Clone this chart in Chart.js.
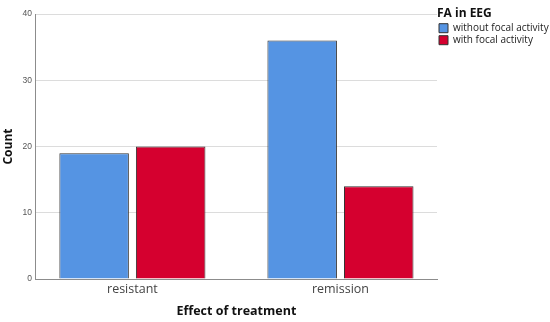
<!DOCTYPE html>
<html>
<head>
<meta charset="utf-8">
<script src="https://cdn.jsdelivr.net/npm/chart.js@4"></script>
<style>
  html, body { margin: 0; padding: 0; background: #fff; }
  #wrap { width: 550px; height: 322px; }
</style>
</head>
<body>
<div id="wrap"><canvas id="faChart"></canvas></div>
<script>
const categories = ["resistant", "remission"];
const seriesNames = ["without focal activity", "with focal activity"];
const withoutFocal = [19, 36];
const withFocal = [20, 14];
const yTicks = [0, 10, 20, 30, 40];

// bars sit on a linear x so the groups can be placed like the SPSS output
function toPoints(values) {
  return values.map((v, i) => ({ x: i, y: v }));
}

const ctx = document.getElementById("faChart").getContext("2d");
const chart = new Chart(ctx, {
  type: "bar",
  data: {
    datasets: [
      {
        label: seriesNames[0],
        data: toPoints(withoutFocal),
        backgroundColor: "#5594e3",
        borderColor: "#333333",
        borderWidth: 1
      },
      {
        label: seriesNames[1],
        data: toPoints(withFocal),
        backgroundColor: "#d5002f",
        borderColor: "#333333",
        borderWidth: 1
      }
    ]
  },
  options: {
    responsive: true,
    maintainAspectRatio: false,
    animation: false,
    layout: { padding: 0 },
    datasets: {
      bar: { categoryPercentage: 0.736, barPercentage: 0.908 }
    },
    scales: {
      x: {
        type: "linear",
        offset: false,
        min: -0.464,
        max: 1.464,
        afterBuildTicks: (scale) => {
          scale.ticks = categories.map((_, i) => ({ value: i }));
        },
        ticks: {
          callback: (value) => categories[value] ?? "",
          padding: 3,
          maxRotation: 0,
          color: "#444",
          font: { family: "Open Sans", size: 12.5 }
        },
        grid: { display: false, drawTicks: false },
        border: { display: true, color: "#8c8c8c" },
        title: {
          display: true,
          text: "Effect of treatment",
          color: "#111",
          font: { family: "Open Sans", size: 12.5, weight: "bold" },
          padding: { top: 3.5, bottom: 3.5 }
        }
      },
      y: {
        min: yTicks[0],
        max: yTicks[yTicks.length - 1],
        afterBuildTicks: (scale) => {
          scale.ticks = yTicks.map(v => ({ value: v }));
        },
        // leave room above the top tick, like the original
        afterFit: (scale) => {
          scale.paddingTop = 14;
        },
        ticks: {
          padding: 4,
          color: "#555",
          font: { family: "Liberation Sans", size: 8.5 }
        },
        grid: { color: "#dcdcdc", drawTicks: false },
        border: { color: "#8c8c8c" },
        title: {
          display: true,
          text: "Count",
          color: "#111",
          font: { family: "Open Sans", size: 12, weight: "bold" },
          padding: { top: 1, bottom: 3 }
        }
      }
    },
    plugins: {
      legend: {
        position: "right",
        align: "start",
        maxWidth: 113,
        title: {
          display: true,
          text: "FA in EEG",
          position: "start",
          color: "#111",
          font: { family: "Open Sans", size: 12, weight: "bold", lineHeight: 1.1 },
          padding: { top: 8, bottom: 0 }
        },
        labels: {
          boxWidth: 9,
          boxHeight: 9,
          padding: 2,
          color: "#222",
          font: { family: "Open Sans", size: 10 }
        }
      },
      tooltip: { enabled: false }
    }
  }
});
</script>
</body>
</html>
